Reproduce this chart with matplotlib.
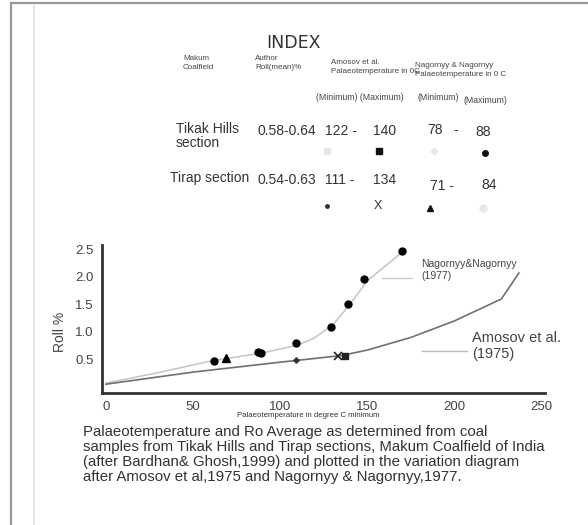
import matplotlib
matplotlib.use("Agg")
import matplotlib.pyplot as plt
from matplotlib.lines import Line2D

W, H = 588, 525
plt.rcParams['font.family'] = ['Liberation Sans', 'DejaVu Sans']

# variation curves
amosov_T = [0, 50, 100, 135, 150, 175, 200, 227, 237]
amosov_Ro = [0.05, 0.27, 0.45, 0.57, 0.67, 0.90, 1.20, 1.60, 2.07]
nagornyy_T = [0, 30, 60, 90, 110, 119, 130, 140, 150, 170]
nagornyy_Ro = [0.07, 0.26, 0.47, 0.62, 0.76, 0.88, 1.12, 1.50, 1.93, 2.45]

# plotted samples
circle_T = [62, 87, 89, 109, 129, 139, 148, 170]
circle_Ro = [0.47, 0.64, 0.62, 0.80, 1.09, 1.51, 1.96, 2.47]
triangle_T, triangle_Ro = [69], [0.53]
cross_T, cross_Ro = [133], [0.56]
square_T, square_Ro = [137], [0.56]
dot_T, dot_Ro = [109], [0.49]

x_ticks = [0, 50, 100, 150, 200, 250]
y_ticks = [0.5, 1.0, 1.5, 2.0, 2.5]

# index table
index_rows = ["Tikak Hills\nsection", "Tirap section"]
index_ro = ["0.58-0.64", "0.54-0.63"]
index_amosov = [("122 -", "140"), ("111 -", "134")]
index_nagornyy = [("78", "88"), ("71 -", "84")]

caption = ("Palaeotemperature and Ro Average as determined from coal\n"
           "samples from Tikak Hills and Tirap sections, Makum Coalfield of India\n"
           "(after Bardhan& Ghosh,1999) and plotted in the variation diagram\n"
           "after Amosov et al,1975 and Nagornyy & Nagornyy,1977.")


def fx(px):
    return px / W


def fy(py):
    return 1 - py / H


fig = plt.figure(figsize=(W / 100, H / 100), dpi=100)

# page frame
fig.add_artist(Line2D([fx(11), fx(11)], [fy(3), 0], color="#9a9a9a", lw=1.6))
fig.add_artist(Line2D([fx(11), 1], [fy(3), fy(3)], color="#9a9a9a", lw=1.6))
fig.add_artist(Line2D([fx(34), fx(34)], [fy(6), 0], color="#e2e2e2", lw=1.2))

ax = fig.add_axes([fx(102), fy(393), (545 - 102) / W, (393 - 245) / H])
ax.set_xlim(-2.3, 252)
ax.set_ylim(-0.11, 2.58)

ax.plot(nagornyy_T, nagornyy_Ro, color="#c4c4c4", lw=1.1)
ax.plot(amosov_T, amosov_Ro, color="#707070", lw=1.2)

ax.plot(circle_T, circle_Ro, "o", color="black", ms=5, ls="none")
ax.plot(triangle_T, triangle_Ro, "^", color="black", ms=5.5, ls="none")
ax.plot(cross_T, cross_Ro, "x", color="#222222", ms=6, mew=1.2, ls="none")
ax.plot(square_T, square_Ro, "s", color="#222222", ms=4, ls="none")
ax.plot(dot_T, dot_Ro, "P", color="#333333", ms=3.5, ls="none")

for s in ["top", "right"]:
    ax.spines[s].set_visible(False)
for s in ["left", "bottom"]:
    ax.spines[s].set_color("#333333")
    ax.spines[s].set_linewidth(2)
ax.set_xticks(x_ticks)
ax.set_yticks(y_ticks)
ax.tick_params(length=0, labelsize=9.5, colors="#444444")
ax.tick_params(axis="x", pad=6)
ax.tick_params(axis="y", pad=6)
ax.set_ylabel("Roll %", fontsize=10, color="#444444")
ax.yaxis.set_label_coords(-0.08, 0.41)
ax.set_xlabel("Palaeotemperature in degree C minimum", fontsize=5.6,
              color="#333333")
ax.xaxis.set_label_coords(0.465, -0.13)

# curve labels
fig.add_artist(Line2D([fx(382), fx(412)], [fy(278), fy(278)], color="#cccccc", lw=1))
fig.text(fx(421), fy(270), "Nagornyy&Nagornyy\n(1977)", fontsize=7.5,
         color="#444444", va="center", linespacing=1.2)
fig.add_artist(Line2D([fx(422), fx(467)], [fy(351), fy(351)], color="#bbbbbb", lw=1))
fig.text(fx(472), fy(346), "Amosov et al.\n(1975)", fontsize=10.5, color="#444444",
         va="center", linespacing=1.15)

# index block
fig.text(fx(266), fy(43), "INDEX", fontsize=12.5, family="DejaVu Sans",
         color="#333333", va="center")
hdr = dict(fontsize=5.8, color="#444444", va="center", linespacing=1.4)
fig.text(fx(183), fy(63), "Makum\nCoalfield", **hdr)
fig.text(fx(255), fy(63), "Author\nRoll(mean)%", **hdr)
fig.text(fx(331), fy(67), "Amosov et al.\nPalaeotemperature in 0C", **hdr)
fig.text(fx(415), fy(70), "Nagornyy & Nagornyy\nPalaeotemperature in 0 C", **hdr)
mm = dict(fontsize=6.3, color="#444444", va="center")
fig.text(fx(316), fy(97), "(Minimum) (Maximum)", **mm)
fig.text(fx(418), fy(98), "(Minimum)", **mm)
fig.text(fx(463), fy(101), "(Maximum)", **mm)

row = dict(fontsize=10, color="#333333", va="center")
row_y = [129, 178]
fig.text(fx(176), fy(136), index_rows[0], linespacing=1.05, **row)
fig.text(fx(170), fy(178), index_rows[1], **row)
for i, y in enumerate(row_y):
    fig.text(fx(257), fy(y + 2), index_ro[i], **row)
    fig.text(fx(325), fy(y + 2), index_amosov[i][0], **row)
    fig.text(fx(373), fy(y + 2), index_amosov[i][1], **row)
fig.text(fx(427), fy(130), index_nagornyy[0][0], **row)
fig.text(fx(453), fy(130), "-", **row)
fig.text(fx(475), fy(132), index_nagornyy[0][1], **row)
fig.text(fx(430), fy(186), index_nagornyy[1][0], **row)
fig.text(fx(481), fy(185), index_nagornyy[1][1], **row)

# index symbols
sym = [
    (327, 151, "s", "#e6e6e6", 5), (379, 151, "s", "#111111", 4),
    (434, 151, "P", "#e6e6e6", 5), (485, 153, "o", "#111111", 4),
    (327, 206, "o", "#333333", 2.5), (483, 208, "o", "#e8e8e8", 5),
    (430, 208, "^", "#111111", 4.5),
]
for px, py, m, c, s in sym:
    fig.add_artist(Line2D([fx(px)], [fy(py)], marker=m, color=c, ms=s, ls="none"))
fig.text(fx(378), fy(206), "X", fontsize=9, color="#333333", ha="center", va="center")

fig.text(fx(83), fy(425), caption, fontsize=10.8, color="#333333", va="top",
         linespacing=1.08)

fig.savefig("out.png", dpi=100, facecolor="white")
